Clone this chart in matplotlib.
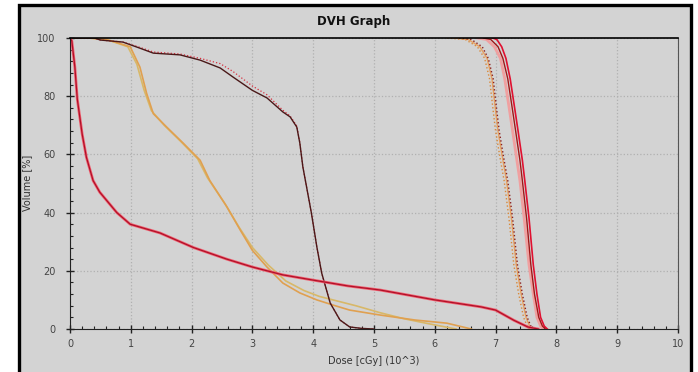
import matplotlib
matplotlib.use('Agg')
import matplotlib.pyplot as plt
from matplotlib.patches import Rectangle
from matplotlib.ticker import MultipleLocator

# body (red)
body_dose = [0, 0.03, 0.08, 0.12, 0.2, 0.27, 0.38, 0.49, 0.77, 0.99, 1.48, 2.03, 2.58, 3.0,
             3.5, 4.0, 4.57, 5.1, 6.0, 6.76, 7.0, 7.3, 7.53, 7.7]
body_vol = [100, 99, 90, 79, 67, 59, 51, 47, 40, 36, 33, 28, 24, 21.3,
            18.6, 16.8, 14.8, 13.4, 10, 7.6, 6.5, 3, 0.7, 0]

# organ (dark brown) + dotted red twin
org_dose = [0, 0.4, 0.5, 0.87, 1.15, 1.37, 1.81, 2.14, 2.47, 2.68, 3.0, 3.24, 3.5, 3.62,
            3.73, 3.78, 3.83, 3.87, 3.97, 4.06, 4.14, 4.28, 4.44, 4.6, 4.8, 5.0]
org_vol = [100, 100, 99.3, 98.6, 96.5, 94.8, 94.2, 92.4, 89.7, 86.6, 82, 79.4, 74.6, 72.9,
           69.4, 63.9, 55.7, 51.2, 39.9, 28.2, 19.2, 8.9, 3.1, 0.7, 0.2, 0]
org2_vol = [100, 100, 99.3, 98.6, 96.8, 95.2, 94.5, 93.0, 91.2, 88.5, 83.5, 80.5, 75.2, 73.2,
            69.8, 64.0, 55.7, 51.2, 39.9, 28.2, 19.2, 8.9, 3.1, 0.7, 0.2, 0]

# two orange structures
or1_dose = [0, 0.3, 0.6, 0.99, 1.15, 1.26, 1.37, 1.59, 1.86, 2.14, 2.3, 2.58, 2.8, 3.0,
            3.24, 3.5, 3.78, 4.06, 4.33, 4.6, 5.1, 5.67, 6.2, 6.5, 6.6]
or1_vol = [100, 100, 99.5, 97, 90, 81, 74, 69.4, 63.9, 58, 51, 42, 34, 27,
           21.3, 15.8, 12.4, 10, 8.2, 6.5, 4.8, 3.1, 2, 0.5, 0]
or2_dose = [0, 0.3, 0.6, 0.95, 1.1, 1.22, 1.34, 1.55, 1.82, 2.1, 2.26, 2.55, 2.78, 3.0,
            3.26, 3.55, 3.85, 4.1, 4.4, 4.7, 5.1, 5.5, 5.9, 6.2, 6.35]
or2_vol = [100, 100, 99.5, 97, 91, 82, 75, 70, 64.5, 58.5, 52, 43, 35, 28,
           22, 16.5, 13.2, 11.2, 9.6, 8.0, 5.6, 3.5, 1.8, 0.6, 0]

# target (PTV) bundle
ptv_vol = [100, 99.5, 97, 93, 86, 75, 68, 58, 51, 38, 22, 12, 4, 1, 0]
ptv1_dose = [6.2, 6.5, 6.7, 6.82, 6.9, 6.96, 7.0, 7.08, 7.14, 7.22, 7.3, 7.38, 7.46, 7.52, 7.56]
ptv2_dose = [6.4, 6.6, 6.78, 6.88, 6.96, 7.02, 7.06, 7.14, 7.2, 7.28, 7.36, 7.44, 7.52, 7.58, 7.62]
ptv3_dose = [6.3, 6.55, 6.74, 6.86, 6.94, 7.0, 7.04, 7.12, 7.18, 7.26, 7.34, 7.42, 7.5, 7.56, 7.6]
ptv4_dose = [6.7, 6.85, 6.98, 7.08, 7.15, 7.23, 7.28, 7.35, 7.4, 7.47, 7.55, 7.62, 7.68, 7.74, 7.78]
ptv5_dose = [6.8, 6.92, 7.04, 7.12, 7.2, 7.28, 7.33, 7.4, 7.44, 7.51, 7.58, 7.64, 7.71, 7.77, 7.82]
ptv6_dose = [6.95, 7.02, 7.1, 7.17, 7.24, 7.32, 7.37, 7.44, 7.48, 7.55, 7.62, 7.68, 7.74, 7.8, 7.85]

bg = '#d3d3d3'
fig = plt.figure(figsize=(6.98, 3.72), dpi=100)
fig.patch.set_facecolor('white')
panel = Rectangle((19 / 698, -0.05), (691 - 19) / 698, (372 - 5) / 372 + 0.05,
                  transform=fig.transFigure, facecolor=bg, edgecolor='black',
                  linewidth=2.4, zorder=-10)
fig.add_artist(panel)

ax = fig.add_axes([70 / 698, 1 - 329 / 372, 608 / 698, 291 / 372])
ax.set_facecolor(bg)

ax.plot(ptv1_dose, ptv_vol, color='#d98a3a', lw=1.0, ls=':')
ax.plot(ptv3_dose, ptv_vol, color='#e6a060', lw=1.0)
ax.plot(ptv2_dose, ptv_vol, color='#8a2020', lw=1.0, ls=':')
ax.plot(ptv4_dose, ptv_vol, color='#f0a0a0', lw=2.0)
ax.plot(ptv5_dose, ptv_vol, color='#a01818', lw=1.0)
ax.plot(ptv6_dose, ptv_vol, color='#e01030', lw=1.2)

ax.plot(or2_dose, or2_vol, color='#d8b868', lw=1.2)
ax.plot(or1_dose, or1_vol, color='#e0a050', lw=1.2)
ax.plot(org_dose, org2_vol, color='#d83040', lw=0.9, ls=':')
ax.plot(org_dose, org_vol, color='#4a1818', lw=1.0)
ax.plot(body_dose, body_vol, color='#f06070', lw=2.0)
ax.plot(body_dose, body_vol, color='#b01028', lw=0.9)

ax.set_xlim(0, 10)
ax.set_ylim(0, 100)
ax.xaxis.set_major_locator(MultipleLocator(1))
ax.xaxis.set_minor_locator(MultipleLocator(0.2))
ax.yaxis.set_major_locator(MultipleLocator(20))
ax.yaxis.set_minor_locator(MultipleLocator(4))
ax.tick_params(which='major', direction='inout', length=6, width=1, colors='#222222',
               labelsize=7, labelcolor='#444444')
ax.tick_params(which='minor', direction='in', length=2.5, width=0.8, colors='#222222')
ax.tick_params(axis='x', pad=4)
ax.tick_params(axis='y', pad=7.5)
ax.grid(True, which='major', color='#b0b0b0', ls=':', lw=0.9)

ax.spines['top'].set_color('black')
ax.spines['top'].set_linewidth(1.2)
ax.spines['right'].set_color('#555555')
ax.spines['left'].set_color('#222222')
ax.spines['bottom'].set_color('#222222')

fig.text(354 / 698, 1 - 21 / 372, 'DVH Graph', fontsize=8.5, fontweight='bold',
         color='#111111', ha='center', va='center')
ax.set_xlabel('Dose [cGy] (10^3)', fontsize=7, color='#333333', labelpad=5)
fig.text(27 / 698, 1 - 183 / 372, 'Volume [%]', rotation=90, fontsize=7, color='#333333',
         ha='center', va='center')

fig.savefig('out.png', dpi=100)
